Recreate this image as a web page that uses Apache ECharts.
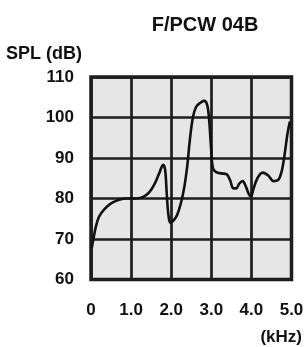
<!DOCTYPE html>
<html>
<head>
<meta charset="utf-8">
<script src="https://cdn.jsdelivr.net/npm/echarts@6/dist/echarts.min.js"></script>
<style>
  html, body { margin: 0; padding: 0; background: #fff; }
  #main { width: 307px; height: 347px; }
</style>
</head>
<body>
<div id="main"></div>
<script>
    // 频率 (kHz) 与声压级 (dB)
    const freqKHz = [0.02, 0.06, 0.12, 0.2, 0.33, 0.5, 0.7, 0.9, 1.1, 1.3, 1.45, 1.58, 1.7, 1.8, 1.85,
        1.89, 1.93, 1.98, 2.06, 2.15, 2.25, 2.33, 2.4, 2.46, 2.54, 2.62, 2.72, 2.82, 2.9, 2.95,
        2.99, 3.04, 3.12, 3.25, 3.38, 3.47, 3.55, 3.62, 3.7, 3.78, 3.86, 3.94, 3.99, 4.05, 4.15,
        4.28, 4.42, 4.55, 4.66, 4.75, 4.83, 4.9, 4.96];
    const splDb = [67.8, 70, 73, 75.5, 77.3, 78.8, 79.7, 80, 80, 80.4, 81.5, 83.5, 86.2, 88.3, 87,
        81, 76, 74, 74.6, 76, 79.2, 83, 88, 94, 100, 102.6, 103.6, 104.1, 103, 99,
        93, 87.5, 86.5, 86.2, 86, 84.5, 82.5, 82.5, 83.7, 84.3, 83, 81, 80.5, 82.3, 85,
        86.4, 85.7, 84.3, 84.5, 86.5, 91, 96, 99];
    const xTicks = [0, 1, 2, 3, 4, 5];
    const yTicks = [60, 70, 80, 90, 100, 110];

    const font = 'Liberation Sans, Arial, sans-serif';
    const myChart = echarts.init(document.getElementById('main'));
    const option = {
        animation: false,
        title: {
            text: 'F/PCW 04B',
            left: 200,
            top: 10,
            textAlign: 'center',
            textStyle: {fontFamily: font, fontWeight: 'bold', fontSize: 20, color: '#111'}
        },
        grid: {
            left: 91, right: 15.5, top: 77, bottom: 67.5,
            show: true,
            backgroundColor: '#e6e6e6',
            borderColor: '#1a1a1a',
            borderWidth: 3.5
        },
        xAxis: {
            type: 'value',
            min: xTicks[0],
            max: xTicks[xTicks.length - 1],
            interval: 1,
            axisLine: {show: false},
            axisTick: {show: false},
            axisLabel: {
                margin: 22,
                fontFamily: font, fontWeight: 'bold', fontSize: 17, color: '#111',
                formatter: function (v) {
                    return v === 0 ? '0' : v.toFixed(1);
                }
            },
            splitLine: {show: true, lineStyle: {color: '#1e1e1e', width: 2.7}}
        },
        yAxis: {
            type: 'value',
            min: yTicks[0],
            max: yTicks[yTicks.length - 1],
            interval: 10,
            axisLine: {show: false},
            axisTick: {show: false},
            axisLabel: {margin: 17, fontFamily: font, fontWeight: 'bold', fontSize: 17, color: '#111'},
            splitLine: {show: true, lineStyle: {color: '#1e1e1e', width: 2.7}}
        },
        graphic: [
            {
                type: 'text', left: 6, top: 45,
                style: {text: 'SPL (dB)', font: 'bold 18px ' + font, fill: '#111'}
            },
            {
                type: 'text', right: 5, top: 329,
                style: {text: '(kHz)', font: 'bold 17px ' + font, fill: '#111'}
            }
        ],
        series: [{
            type: 'line',
            data: freqKHz.map(function (f, i) { return [f, splDb[i]]; }),
            smooth: 0.35,
            symbol: 'none',
            lineStyle: {color: '#111', width: 2.6}
        }]
    };
    myChart.setOption(option);
</script>
</body>
</html>
